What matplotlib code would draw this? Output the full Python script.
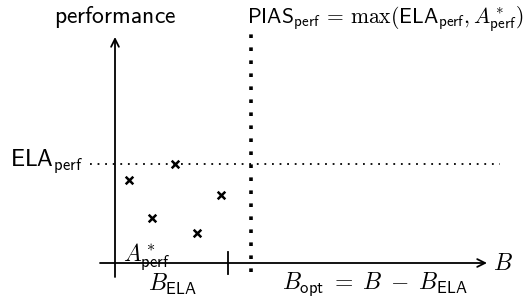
import matplotlib
matplotlib.use('Agg')
import matplotlib.pyplot as plt

plt.rcParams['mathtext.fontset'] = 'cm'

# sample configurations evaluated during the ELA phase (budget, performance)
sample_budget = [0.7, 3.0, 1.85, 4.1, 5.3]
sample_perf = [4.15, 4.95, 2.25, 1.5, 3.4]

ela_perf = max(sample_perf)   # best performance found by ELA
b_ela = 5.65                  # budget used by ELA
b_switch = 6.8                # where the optimiser starts
x_end = 18.6
y_end = 11.3

fig = plt.figure(figsize=(5.26, 3.02), dpi=100)
ax = fig.add_axes([0, 0, 1, 1])
ax.set_xlim(-5.75, 20.55)
ax.set_ylim(-1.95, 13.15)
ax.axis('off')

# axes with arrows
ax.annotate('', xy=(x_end, 0), xytext=(-0.75, 0),
            arrowprops=dict(arrowstyle='->', lw=1.3, color='black',
                            shrinkA=0, shrinkB=0, mutation_scale=14))
ax.annotate('', xy=(0, y_end), xytext=(0, -0.7),
            arrowprops=dict(arrowstyle='->', lw=1.3, color='black',
                            shrinkA=0, shrinkB=0, mutation_scale=14))

# tick at the end of ELA budget
ax.plot([b_ela, b_ela], [-0.55, 0.55], color='black', lw=1.3)

# dotted lines
ax.plot([b_switch, b_switch], [-0.45, 11.9], color='black', lw=2.6,
        linestyle=(0, (1, 2.6)), solid_capstyle='butt')
ax.plot([-1.25, 19.25], [ela_perf, ela_perf], color='black', lw=1.3,
        linestyle=(0, (1, 3.2)), solid_capstyle='butt')

# samples
ax.scatter(sample_budget, sample_perf, marker='x', s=30, color='black',
           linewidths=1.8, zorder=3)

fs = 17
ax.text(0, 12.3, r'$\mathsf{performance}$', ha='center', va='center', fontsize=fs)
ax.text(6.6, 12.2,
        r'$\mathsf{PIAS}_{\mathsf{perf}} \,=\, \max(\mathsf{ELA}_{\mathsf{perf}}, A^*_{\mathsf{perf}})$',
        ha='left', va='center', fontsize=15.5)
ax.text(-1.6, ela_perf + 0.15, r'$\mathsf{ELA}_{\mathsf{perf}}$', ha='right',
        va='center', fontsize=fs)
ax.text(0.4, 0.3, r'$A^*_{\mathsf{perf}}$', ha='left', va='center', fontsize=fs)
ax.text(b_ela / 2 + 0.05, -1.05, r'$B_{\mathsf{ELA}}$', ha='center', va='center',
        fontsize=fs)
ax.text(13.0, -1.05, r'$B_{\mathsf{opt}} \;=\; B \;-\; B_{\mathsf{ELA}}$', ha='center',
        va='center', fontsize=fs)
ax.text(18.9, 0, r'$B$', ha='left', va='center', fontsize=fs)

fig.savefig('out.png', dpi=100)
